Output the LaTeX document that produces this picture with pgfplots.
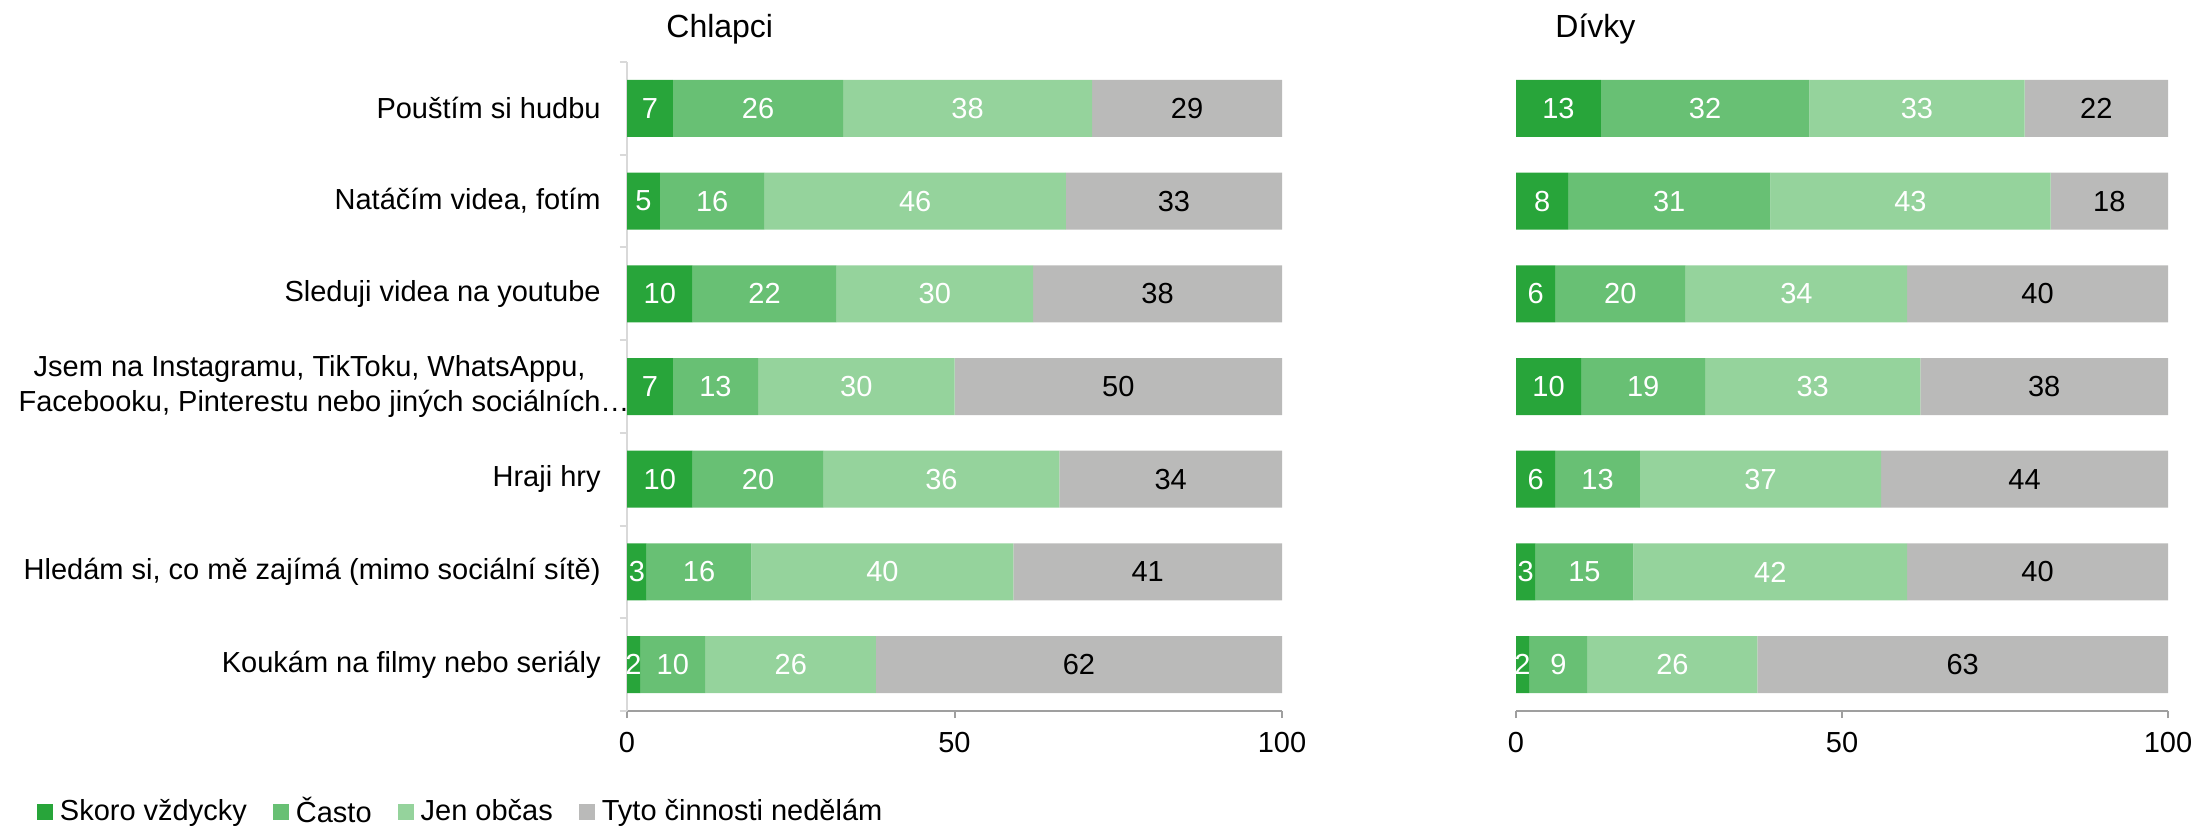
\documentclass[border=0pt]{standalone}
\usepackage{pgfplots}
\pgfplotsset{compat=1.18}
\usepackage{pgfplotstable}
\usepackage{fontspec}
\setmainfont{Liberation Sans}
\definecolor{cA}{RGB}{40,165,58}
\definecolor{cB}{RGB}{104,192,116}
\definecolor{cC}{RGB}{149,211,156}
\definecolor{cD}{RGB}{186,186,185}
\newcommand{\fs}{\fontsize{14.5}{17.4}\selectfont}

\pgfplotstableread{
idx a b c d
1 7 26 38 29
2 5 16 46 33
3 10 22 30 38
4 7 13 30 50
5 10 20 36 34
6 3 16 40 41
7 2 10 26 62
}\boys
\pgfplotstableread{
idx a b c d
1 13 32 33 22
2 8 31 43 18
3 6 20 34 40
4 10 19 33 38
5 6 13 37 44
6 3 15 42 40
7 2 9 26 63
}\girls

\pgfplotsset{
  panel/.style={
    scale only axis, height=324.5pt, anchor=south west,
    xmin=0, xmax=100, ymin=0.5, ymax=7.5, y dir=reverse,
    /pgf/number format/assume math mode=true,
  },
  bars/.style={panel, xbar stacked, bar width=28.5pt,
    axis x line*=bottom,
    x axis line style={draw=gray!75, line width=1pt},
    y axis line style={draw=black!15, line width=1pt},
    tick align=outside, major tick length=0pt, minor tick length=3.5pt,
    xtick={0,50,100}, minor xtick={0,50,100},
    xtick style={draw=gray!75, line width=1pt},
    ytick style={draw=black!15, line width=1pt},
    xticklabel style={inner sep=0pt, font=\fs}, xticklabel shift=10.5pt,
    yticklabel style={inner sep=0pt, align=center, font=\fs}, yticklabel shift=13pt,
    title style={at={(0,1)}, anchor=base west, xshift=19.5pt, yshift=6.5pt,
      font=\fontsize{16}{19}\selectfont, inner sep=0pt},
  },
  labels/.style={panel, hide axis, clip=false, nodes near coords, point meta=explicit,
    nodes near coords align=center,
    every node near coord/.append style={anchor=center, inner sep=0pt, font=\fontsize{14.5}{17}\selectfont},
  },
}

\begin{document}
\begin{tikzpicture}
\useasboundingbox (0,0) rectangle (1097.5pt,413.5pt);
% ---------- left panel: Chlapci
\begin{axis}[bars, width=327.5pt, at={(313.5pt,58pt)},
  axis y line*=left, title={Chlapci},
  ytick={1,...,7}, minor ytick={0.5,1.5,...,7.5},
  yticklabels={Pouštím si hudbu, {Natáčím videa, fotím}, Sleduji videa na youtube,
    {Jsem na Instagramu, TikToku, WhatsAppu,\\Facebooku, Pinterestu nebo jiných sociálních\rlap{…}},
    Hraji hry, {Hledám si, co mě zajímá (mimo sociální sítě)}, Koukám na filmy nebo seriály},
  legend columns=4,
  legend image code/.code={\fill[#1] (0pt,-4pt) rectangle (8pt,4pt);},
  legend style={at={(-0.9008,-0.1549)}, anchor=west, draw=none, fill=none,
    inner sep=0pt, outer sep=0pt, font=\fs, column sep=3.5pt,
    nodes={inner sep=0pt},
    /tikz/every even column/.append style={column sep=13pt}},
]
\addplot[fill=cA, draw=none] table[x=a, y=idx] {\boys};
\addplot[fill=cB, draw=none] table[x=b, y=idx] {\boys};
\addplot[fill=cC, draw=none] table[x=c, y=idx] {\boys};
\addplot[fill=cD, draw=none] table[x=d, y=idx] {\boys};
\legend{Skoro vždycky, Často, Jen občas, Tyto činnosti nedělám}
\end{axis}
\begin{axis}[labels, width=327.5pt, at={(313.5pt,58pt)}]
\addplot[draw=none, mark=none, nodes near coords, every node near coord/.append style={text=white}]
  table[x expr=\thisrow{a}/2, y=idx, meta=a] {\boys};
\addplot[draw=none, mark=none, nodes near coords, every node near coord/.append style={text=white}]
  table[x expr=\thisrow{a}+\thisrow{b}/2, y=idx, meta=b] {\boys};
\addplot[draw=none, mark=none, nodes near coords, every node near coord/.append style={text=white}]
  table[x expr=\thisrow{a}+\thisrow{b}+\thisrow{c}/2, y=idx, meta=c] {\boys};
\addplot[draw=none, mark=none, nodes near coords, every node near coord/.append style={text=black}]
  table[x expr=\thisrow{a}+\thisrow{b}+\thisrow{c}+\thisrow{d}/2, y=idx, meta=d] {\boys};
\end{axis}
% ---------- right panel: Dívky
\begin{axis}[bars, width=326pt, at={(758pt,58pt)},
  axis y line=none, title={Dívky}, ytick=\empty]
\addplot[fill=cA, draw=none] table[x=a, y=idx] {\girls};
\addplot[fill=cB, draw=none] table[x=b, y=idx] {\girls};
\addplot[fill=cC, draw=none] table[x=c, y=idx] {\girls};
\addplot[fill=cD, draw=none] table[x=d, y=idx] {\girls};
\end{axis}
\begin{axis}[labels, width=326pt, at={(758pt,58pt)}]
\addplot[draw=none, mark=none, nodes near coords, every node near coord/.append style={text=white}]
  table[x expr=\thisrow{a}/2, y=idx, meta=a] {\girls};
\addplot[draw=none, mark=none, nodes near coords, every node near coord/.append style={text=white}]
  table[x expr=\thisrow{a}+\thisrow{b}/2, y=idx, meta=b] {\girls};
\addplot[draw=none, mark=none, nodes near coords, every node near coord/.append style={text=white}]
  table[x expr=\thisrow{a}+\thisrow{b}+\thisrow{c}/2, y=idx, meta=c] {\girls};
\addplot[draw=none, mark=none, nodes near coords, every node near coord/.append style={text=black}]
  table[x expr=\thisrow{a}+\thisrow{b}+\thisrow{c}+\thisrow{d}/2, y=idx, meta=d] {\girls};
\end{axis}
\end{tikzpicture}
\end{document}
